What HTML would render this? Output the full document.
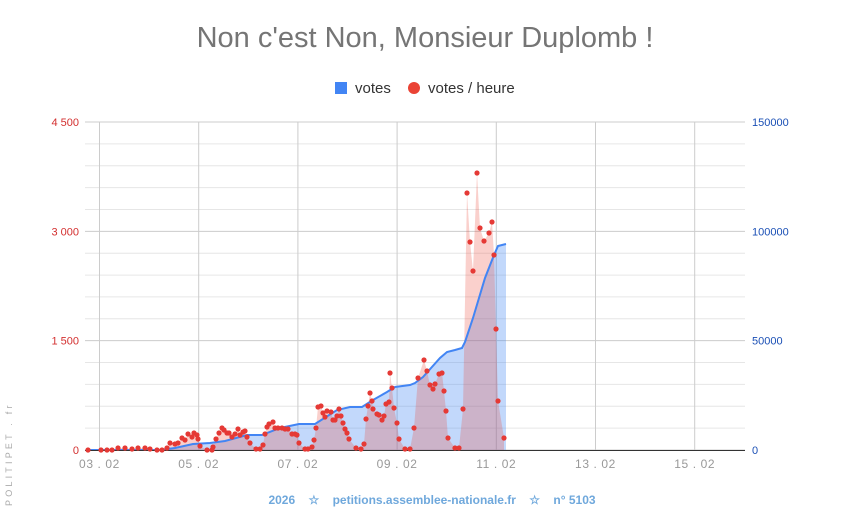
<!DOCTYPE html>
<html><head><meta charset="utf-8"><style>
html,body{margin:0;padding:0;background:#fff;}
body{width:851px;height:527px;overflow:hidden;font-family:"Liberation Sans",Arial,sans-serif;}
</style></head><body>
<svg id="s" width="851" height="527" xmlns="http://www.w3.org/2000/svg" font-family="Liberation Sans, Arial, sans-serif">
<text x="425" y="47" text-anchor="middle" font-size="29" fill="#757575">Non c'est Non, Monsieur Duplomb !</text>
<rect x="335" y="82" width="12" height="12" fill="#4285f4"/>
<text x="355" y="93" font-size="15" fill="#333">votes</text>
<circle cx="414" cy="88" r="6" fill="#ea4335"/>
<text x="428" y="93" font-size="15" fill="#333">votes / heure</text>
<g id="grid"></g>
<g id="data"></g>
<text x="432" y="504" text-anchor="middle" font-size="12" font-weight="bold" fill="#6fa8dc" xml:space="preserve">2026    ☆    petitions.assemblee-nationale.fr    ☆    n° 5103</text>
<text transform="translate(12,506) rotate(-90)" font-size="9" fill="#aaa" letter-spacing="3.2">POLITIPET . fr</text>
</svg>
<script>
var NS="http://www.w3.org/2000/svg";
function el(p,t,a,txt){var e=document.createElementNS(NS,t);for(var k in a)e.setAttribute(k,a[k]);if(txt!=null)e.textContent=txt;p.appendChild(e);return e;}
var g=document.getElementById('grid');
var L=85,R=745,T=122,B=450;
for(var i=0;i<=15;i++){var y=B-i*(B-T)/15;el(g,'line',{x1:L,x2:R,y1:y,y2:y,stroke:(i%5==0)?'#ccc':'#e6e6e6','stroke-width':1});}
var days=['03.02','05.02','07.02','09.02','11.02','13.02','15.02'];
for(var i=0;i<7;i++){var x=99.5+i*99.2;el(g,'line',{x1:x,x2:x,y1:T,y2:B,stroke:'#ccc','stroke-width':1});
el(g,'text',{x:x,y:468,'text-anchor':'middle','font-size':12,fill:'#999','letter-spacing':'0.6'},days[i].replace('.',' . '));}
var ll=['0','1 500','3 000','4 500'],rl=['0','50000','100000','150000'];
for(var i=0;i<4;i++){var y=B-i*(B-T)/3+4;
el(g,'text',{x:79,y:y,'text-anchor':'end','font-size':11,fill:'#d32f2f'},ll[i]);
el(g,'text',{x:752,y:y,'font-size':11,fill:'#1a4fb5'},rl[i]);}
var red=[[88,450],[101,450],[107,450],[112,450],[118,448],[125,448],[132,449],[138,448],[145,448],[150,449],[157,450],[162,450],[167,448],[170,443],[175,444],[178,443],[182,438],[185,440],[188,434],[192,437],[194,433],[197,435],[198,439],[200,446],[207,450],[212,450],[213,447],[216,439],[219,433],[222,428],[224,430],[227,433],[229,433],[232,437],[235,434],[238,429],[240,435],[243,432],[245,431],[247,437],[250,443],[256,449],[260,449],[263,445],[265,434],[267,427],[269,424],[273,422],[275,428],[278,428],[282,428],[285,429],[288,429],[292,434],[295,434],[297,435],[299,443],[305,449],[308,449],[312,447],[314,440],[316,428],[318,407],[321,406],[323,413],[325,417],[327,411],[331,412],[333,420],[335,420],[337,416],[339,409],[341,416],[343,423],[345,429],[347,433],[349,439],[356,448],[361,449],[364,444],[366,419],[368,406],[370,393],[372,401],[373,409],[377,414],[379,415],[382,420],[384,416],[386,404],[389,402],[390,373],[392,388],[394,408],[397,423],[399,439],[405,449],[410,449],[414,428],[418,378],[424,360],[427,371],[430,385],[433,389],[435,384],[439,374],[442,373],[444,391],[446,411],[448,438],[455,448],[459,448],[463,409],[467,193],[470,242],[473,271],[477,173],[480,228],[484,241],[489,233],[492,222],[494,255],[496,329],[498,401],[504,438]];
var blue=[[88,450],[160,450],[175,448],[193,444],[210,443],[225,441],[247,435],[262,435],[280,428],[299,424],[315,424],[337,410],[350,407],[362,407],[373,400],[387,392],[395,387],[410,385],[415,383],[423,377],[440,358],[447,352],[455,350],[462,348],[465,342],[473,318],[485,278],[494,255],[498,246],[506,244]];
var d=document.getElementById('data');
function pts(a){return a.map(function(p){return p[0]+','+p[1];}).join(' ');}
el(d,'polygon',{points:pts(blue)+' 506,450 88,450',fill:'rgba(66,133,244,0.32)'});
el(d,'polygon',{points:pts(red)+' 504,450 88,450',fill:'rgba(234,67,53,0.25)'});
el(d,'polyline',{points:pts(blue),fill:'none',stroke:'#4285f4','stroke-width':2});
el(d,'line',{x1:L,x2:R,y1:450.5,y2:450.5,stroke:'#333','stroke-width':1});
red.forEach(function(p){el(d,'circle',{cx:p[0],cy:p[1],r:2.6,fill:'#e53935'});});
</script>
</body></html>
